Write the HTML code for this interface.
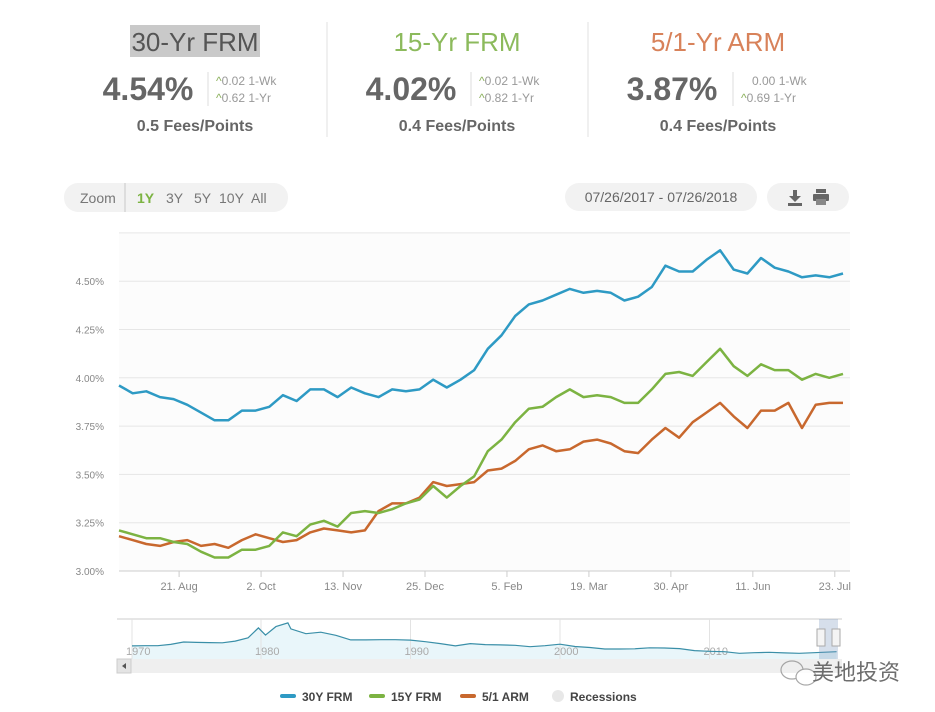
<!DOCTYPE html>
<html><head><meta charset="utf-8">
<style>
body{margin:0;background:#fff;}
#wrap{position:relative;width:935px;height:712px;overflow:hidden;font-family:"Liberation Sans",sans-serif;}
</style></head>
<body>
<div id="wrap">
<svg id="svg" width="935" height="712" viewBox="0 0 935 712" xmlns="http://www.w3.org/2000/svg" style="position:absolute;left:0;top:0">
  <g>
    <rect x="130" y="25" width="130" height="32" fill="#c9c9c9"/>
    <text x="195" y="51" text-anchor="middle" font-size="26" fill="#555">30-Yr FRM</text>
    <text x="148" y="100" text-anchor="middle" font-size="32" font-weight="bold" fill="#666">4.54%</text>
    <line x1="208" y1="72" x2="208" y2="106" stroke="#ddd"/>
    <text x="216" y="85" font-size="12" fill="#999"><tspan fill="#8ab05a">^</tspan>0.02 1-Wk</text>
    <text x="216" y="102" font-size="12" fill="#999"><tspan fill="#8ab05a">^</tspan>0.62 1-Yr</text>
    <text x="195" y="131" text-anchor="middle" font-size="16" font-weight="bold" fill="#666">0.5 Fees/Points</text>
  </g>
  <line x1="327" y1="22" x2="327" y2="137" stroke="#e2e2e2"/>
  <g>
    <text x="457" y="51" text-anchor="middle" font-size="26" fill="#8cba5c">15-Yr FRM</text>
    <text x="411" y="100" text-anchor="middle" font-size="32" font-weight="bold" fill="#666">4.02%</text>
    <line x1="471" y1="72" x2="471" y2="106" stroke="#ddd"/>
    <text x="479" y="85" font-size="12" fill="#999"><tspan fill="#8ab05a">^</tspan>0.02 1-Wk</text>
    <text x="479" y="102" font-size="12" fill="#999"><tspan fill="#8ab05a">^</tspan>0.82 1-Yr</text>
    <text x="457" y="131" text-anchor="middle" font-size="16" font-weight="bold" fill="#666">0.4 Fees/Points</text>
  </g>
  <line x1="588" y1="22" x2="588" y2="137" stroke="#e2e2e2"/>
  <g>
    <text x="718" y="51" text-anchor="middle" font-size="26" fill="#d8825a">5/1-Yr ARM</text>
    <text x="672" y="100" text-anchor="middle" font-size="32" font-weight="bold" fill="#666">3.87%</text>
    <line x1="733" y1="72" x2="733" y2="106" stroke="#ddd"/>
    <text x="752" y="85" font-size="12" fill="#999">0.00 1-Wk</text>
    <text x="741" y="102" font-size="12" fill="#999"><tspan fill="#8ab05a">^</tspan>0.69 1-Yr</text>
    <text x="718" y="131" text-anchor="middle" font-size="16" font-weight="bold" fill="#666">0.4 Fees/Points</text>
  </g>
  <g>
    <rect x="64" y="183" width="224" height="29" rx="14" fill="#f2f2f2"/>
    <text x="80" y="203" font-size="14" fill="#777">Zoom</text>
    <line x1="125" y1="183" x2="125" y2="212" stroke="#ddd" stroke-width="2"/>
    <text x="137" y="203" font-size="14" font-weight="bold" fill="#7cb342">1Y</text>
    <text x="166" y="203" font-size="14" fill="#777">3Y</text>
    <text x="194" y="203" font-size="14" fill="#777">5Y</text>
    <text x="219" y="203" font-size="14" fill="#777">10Y</text>
    <text x="251" y="203" font-size="14" fill="#777">All</text>
  </g>
  <rect x="565" y="183" width="192" height="28" rx="14" fill="#f2f2f2"/>
  <text x="661" y="202" text-anchor="middle" font-size="14" fill="#666">07/26/2017 - 07/26/2018</text>
  <rect x="767" y="183" width="82" height="28" rx="14" fill="#f2f2f2"/>
  <g fill="#666">
    <rect x="793" y="190" width="4" height="7"/><polygon points="789,196 801,196 795,202"/><rect x="788" y="203" width="14" height="3"/>
  </g>
  <g fill="#666">
    <rect x="816" y="189" width="10" height="4"/><rect x="813" y="194" width="16" height="7" rx="1"/><rect x="816" y="199" width="10" height="6" fill="#888"/>
  </g>
  <rect x="119" y="233" width="731" height="338" fill="#fcfcfc"/>
  <g id="grid"></g>
  <g id="series"></g>
  <g id="xaxis"></g>
  <g id="nav"></g>
  <g>
    <g><rect x="280" y="694" width="16" height="4" rx="2" fill="#2e9ac4"/><text x="302" y="701" font-size="12" font-weight="bold" fill="#444">30Y FRM</text></g>
    <g><rect x="369" y="694" width="16" height="4" rx="2" fill="#7cb342"/><text x="391" y="701" font-size="12" font-weight="bold" fill="#444">15Y FRM</text></g>
    <g><rect x="460" y="694" width="16" height="4" rx="2" fill="#c8682e"/><text x="482" y="701" font-size="12" font-weight="bold" fill="#444">5/1 ARM</text></g>
    <g><circle cx="558" cy="696" r="6" fill="#e8e8e8"/><text x="570" y="701" font-size="12" font-weight="bold" fill="#444">Recessions</text></g>
  </g>
  <g opacity="0.85">
    <ellipse cx="792" cy="670" rx="11" ry="9" fill="none" stroke="#999" stroke-width="1.2"/>
    <ellipse cx="806" cy="677" rx="10" ry="8" fill="#fff" stroke="#999" stroke-width="1.2"/>
    <text x="812" y="680" font-size="22" fill="#555" font-family="'Liberation Sans','Noto Sans CJK SC',sans-serif">美地投资</text>
  </g>
</svg>
</div>
<script>
const yTicks = [3.00, 3.25, 3.50, 3.75, 4.00, 4.25, 4.50, 4.75];
const yTickLabels = ["3.00%","3.25%","3.50%","3.75%","4.00%","4.25%","4.50%",""];
const xTickLabels = ["21. Aug","2. Oct","13. Nov","25. Dec","5. Feb","19. Mar","30. Apr","11. Jun","23. Jul"];
const xTickWeeks = [4.4, 10.4, 16.4, 22.4, 28.4, 34.4, 40.4, 46.4, 52.4];
const frm30 = [3.96,3.92,3.93,3.90,3.89,3.86,3.82,3.78,3.78,3.83,
  3.83,3.85,3.91,3.88,3.94,3.94,3.90,3.95,3.92,3.90,
  3.94,3.93,3.94,3.99,3.95,3.99,4.04,4.15,4.22,4.32,
  4.38,4.40,4.43,4.46,4.44,4.45,4.44,4.40,4.42,4.47,
  4.58,4.55,4.55,4.61,4.66,4.56,4.54,4.62,4.57,4.55,
  4.52,4.53,4.52,4.54];
const frm15 = [3.21,3.19,3.17,3.17,3.15,3.14,3.10,3.07,3.07,3.11,
  3.11,3.13,3.20,3.18,3.24,3.26,3.23,3.30,3.31,3.30,
  3.32,3.35,3.37,3.44,3.38,3.44,3.49,3.62,3.68,3.77,
  3.84,3.85,3.90,3.94,3.90,3.91,3.90,3.87,3.87,3.94,
  4.02,4.03,4.01,4.08,4.15,4.06,4.01,4.07,4.04,4.04,
  3.99,4.02,4.00,4.02];
const arm51 = [3.18,3.16,3.14,3.13,3.15,3.16,3.13,3.14,3.12,3.16,
  3.19,3.17,3.15,3.16,3.20,3.22,3.21,3.20,3.21,3.31,
  3.35,3.35,3.38,3.46,3.44,3.45,3.46,3.52,3.53,3.57,
  3.63,3.65,3.62,3.63,3.67,3.68,3.66,3.62,3.61,3.68,
  3.74,3.69,3.77,3.82,3.87,3.80,3.74,3.83,3.83,3.87,
  3.74,3.86,3.87,3.87];
const navYears = [1971,1972,1973,1974,1975,1976,1977,1978,1979,1979.8,1980.3,1981,1981.8,1982,1983,1984,1985,1986,1987,1988,1989,1990,1991,1992,1993,1994,1995,1996,1997,1998,1999,2000,2001,2002,2003,2004,2005,2006,2007,2008,2009,2010,2011,2012,2013,2014,2015,2016,2017,2018.5];
const navRates = [7.4,7.4,8.0,9.2,9.0,8.9,8.8,9.6,11.2,16.0,12.5,16.6,18.4,15.5,13.2,13.9,12.4,10.2,10.2,10.3,10.3,10.1,9.3,8.4,7.3,8.4,7.9,7.8,7.6,6.9,7.4,8.1,7.0,6.5,5.8,5.8,5.9,6.4,6.3,6.0,5.0,4.7,4.5,3.7,4.0,4.2,3.9,3.7,4.0,4.5];
const navDecades = [1970,1980,1990,2000,2010];

const NS="http://www.w3.org/2000/svg";
function mk(tag, attrs, parent){const e=document.createElementNS(NS,tag);for(const k in attrs)e.setAttribute(k,attrs[k]);parent.appendChild(e);return e;}
const X0=119, X1=843, Ybot=571;
const n = frm30.length;
function xs(i){return X0 + i*(X1-X0)/(n-1);}
function ys(v){return Ybot - (v-3.00)/0.25*48.3;}
const grid=document.getElementById('grid');
yTicks.forEach((t,i)=>{
  const l=mk('line',{x1:119,x2:850,y1:ys(t),y2:ys(t),stroke:i===0?'#ccc':'#e6e6e6'},grid);
  
  
  if(yTickLabels[i]){
    const tx=mk('text',{x:104,y:ys(t)+4,'text-anchor':'end','font-size':10,fill:'#888'},grid);
    tx.textContent=yTickLabels[i];
    
    
  }
});
const xa=document.getElementById('xaxis');
xTickLabels.forEach((lab,i)=>{
  const x=xs(xTickWeeks[i]);
  const tk=mk('line',{x1:x,x2:x,y1:571,y2:577,stroke:'#ccc'},xa);
  
  
  const tx=mk('text',{x:x,y:590,'text-anchor':'middle','font-size':11,fill:'#888'},xa);
  tx.textContent=lab;
  
  
});
const sg=document.getElementById('series');
[[arm51,'#c8682e','line-51-arm'],[frm15,'#7cb342','line-15y-frm'],[frm30,'#2e9ac4','line-30y-frm']].forEach(([arr,c,name])=>{
  const d=arr.map((v,i)=>(i?'L':'M')+xs(i).toFixed(1)+','+ys(v).toFixed(1)).join('');
  const p=mk('path',{d:d,fill:'none',stroke:c,'stroke-width':2.5,'stroke-linejoin':'round'},sg);
  
  
});
// navigator
const nav=document.getElementById('nav');
function nx(yr){ return yr<1980 ? 132 + (yr-1970)*12.9 : 261 + (yr-1980)*14.95; }
function ny(v){return 661 - v*2.07;}
let nd='M'+nx(1970)+','+ny(7.3)+navYears.map((yr,i)=>'L'+nx(yr).toFixed(1)+','+ny(navRates[i]).toFixed(1)).join('');
const na=mk('path',{d:nd+'L'+nx(2018.5)+',659L'+nx(1970)+',659Z',fill:'#e9f6fa'},nav);


const nt=mk('line',{x1:117,x2:842,y1:619,y2:619,stroke:'#ccc'},nav);


navDecades.forEach(d=>{
  const g=mk('line',{x1:nx(d),x2:nx(d),y1:619,y2:659,stroke:'#e3e3e3'},nav);
  
  
  const t=mk('text',{x:nx(d)-6,y:655,'font-size':11,fill:'#aaa'},nav);
  t.textContent=String(d);
  
  
});
const nl=mk('path',{d:nd,fill:'none',stroke:'#3a8fa8','stroke-width':1.2},nav);


const sel=mk('rect',{x:819,y:619,width:19,height:40,fill:'rgba(120,150,190,0.3)'},nav);


[821,836].forEach(x=>{
  const h=mk('rect',{x:x-4,y:629,width:8,height:17,fill:'#f4f4f4',stroke:'#aaa'},nav);
  
  
});
const sb=mk('rect',{x:117,y:659,width:725,height:14,fill:'#efefef'},nav);


const sbb=mk('rect',{x:117,y:659,width:14,height:14,fill:'#e4e4e4',stroke:'#ccc'},nav);


const arr=mk('polygon',{points:'126,663 126,669 122,666',fill:'#555'},nav);


</script>
</body></html>
